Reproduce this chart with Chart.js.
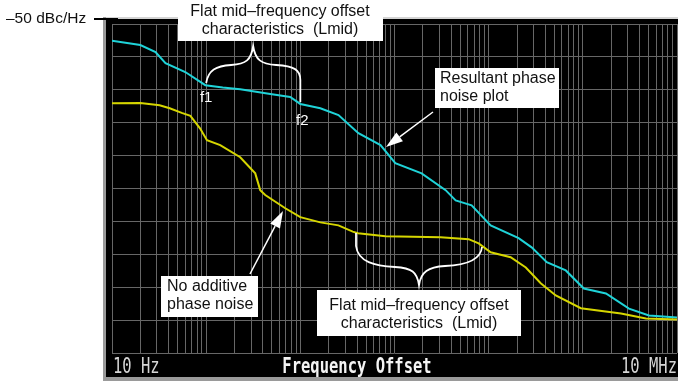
<!DOCTYPE html>
<html>
<head>
<meta charset="utf-8">
<script src="https://cdn.jsdelivr.net/npm/chart.js@4/dist/chart.umd.min.js"></script>
<style>
html,body{margin:0;padding:0;background:#fff;}
#c{display:block;}
</style>
</head>
<body>
<canvas id="c" width="678" height="382"></canvas>
<script>
// ---- data (frequency offset in Hz, phase noise in dBc/Hz) ----
const cyanFreq = [10, 20, 29, 37, 60, 98, 150, 230, 480, 780, 1000, 1630, 2540, 4140, 7100, 10200, 19400, 34900, 44600, 65900, 105000, 208000, 286000, 414000, 659000, 1025000, 1760000, 3090000, 5040000, 10000000];
const cyanDb   = [-55.1, -56.4, -58.5, -61.9, -64.6, -68.6, -69.3, -69.8, -71.3, -72.2, -74.3, -75.6, -77.7, -83.2, -86.8, -92.3, -95.4, -100.5, -103.6, -105.1, -111.2, -115.1, -117.9, -122.4, -124.9, -130.4, -131.9, -136.5, -138.6, -139.2];
const yelFreq  = [10, 20, 32, 41, 55, 68, 86, 102, 141, 230, 332, 375, 424, 692, 1000, 1630, 2540, 3600, 4100, 8000, 30800, 61200, 78300, 105000, 171000, 248000, 357000, 516000, 952000, 2540000, 4680000, 10000000];
const yelDb    = [-74.1, -74.0, -74.7, -75.6, -77.0, -77.9, -81.7, -85.3, -86.8, -90.5, -95.4, -100.5, -102.0, -106.0, -108.7, -110.3, -111.2, -113.1, -113.6, -114.5, -114.8, -115.4, -116.7, -119.4, -120.9, -124.0, -128.8, -132.5, -136.4, -138.0, -139.5, -139.8];
const yTicks   = [-150, -140, -130, -120, -110, -100, -90, -80, -70, -60, -50];
const xEndLabels = ["10 Hz", "10 MHz"];
const xTitle = "Frequency Offset";
const refLabel = "\u201350 dBc/Hz";

const xGrid = [];
for (let e = 1; e <= 6; e++) for (let m = 1; m <= 9; m++) xGrid.push(m * Math.pow(10, e));
xGrid.push(1e7);

const toPts = (xs, ys) => xs.map((x, i) => ({x: x, y: ys[i]}));

function arrow(c, x1, y1, x2, y2) {
  const a = Math.atan2(y2 - y1, x2 - x1), L = 17, w = 5.5;
  const bx = x2 - L * Math.cos(a), by = y2 - L * Math.sin(a);
  c.strokeStyle = '#fff'; c.fillStyle = '#fff'; c.lineWidth = 1.5;
  c.beginPath(); c.moveTo(x1, y1); c.lineTo(bx, by); c.stroke();
  c.beginPath(); c.moveTo(x2, y2);
  c.lineTo(bx + w * Math.sin(a), by - w * Math.cos(a));
  c.lineTo(bx - w * Math.sin(a), by + w * Math.cos(a));
  c.closePath(); c.fill();
}
function box(c, x, y, w, h, lines, tx, ty, align) {
  c.fillStyle = '#fff'; c.fillRect(x, y, w, h);
  c.fillStyle = '#111'; c.font = '16px "Liberation Sans", Arial, sans-serif';
  c.textAlign = align; c.textBaseline = 'middle';
  lines.forEach((t, i) => c.fillText(t, tx, ty + i * 18));
}
function stretchText(c, t, x, y, align, font, color) {
  c.save(); c.font = font; c.fillStyle = color; c.textAlign = align; c.textBaseline = 'alphabetic';
  c.translate(x, y); c.scale(1, 1.33); c.fillText(t, 0, 0); c.restore();
}

const deco = {
  id: 'deco',
  beforeDraw(chart) {
    const c = chart.ctx;
    c.save();
    c.fillStyle = '#fff'; c.fillRect(0, 0, 678, 382);
    c.fillStyle = '#9a9a9a'; c.fillRect(103, 17, 575, 364);
    c.fillStyle = '#d4d4d4'; c.fillRect(106, 17, 572, 2);
    c.fillStyle = '#000'; c.fillRect(106, 19, 572, 358);
    c.restore();
  },
  afterDraw(chart) {
    const c = chart.ctx, xs = chart.scales.x;
    const X = v => xs.getPixelForValue(v);
    c.save();
    // bottom labels
    const mono = '15.5px "DejaVu Sans Mono", monospace';
    stretchText(c, xEndLabels[0], 113, 373, 'left', mono, '#d6d6d6');
    stretchText(c, xEndLabels[1], 677, 373, 'right', mono, '#d6d6d6');
    stretchText(c, xTitle, 357, 373, 'center', 'bold ' + mono, '#f4f4f4');

    // reference level label
    c.fillStyle = '#111'; c.font = '15.5px "Liberation Sans", Arial, sans-serif';
    c.textAlign = 'left'; c.textBaseline = 'middle';
    c.fillText(refLabel, 6, 19);
    c.strokeStyle = '#000'; c.lineWidth = 2;
    c.beginPath(); c.moveTo(94, 19); c.lineTo(118, 19); c.stroke();

    // braces
    c.strokeStyle = '#fff'; c.lineWidth = 1.8;
    const f1 = X(100), f2 = X(1000);
    c.beginPath();
    c.moveTo(f1, 83);
    c.bezierCurveTo(f1 + 2, 70, f1 + 10, 66, f1 + 25, 65);
    c.bezierCurveTo(f1 + 40, 64, f1 + 45, 60, f1 + 47, 46);
    c.bezierCurveTo(f1 + 49, 60, f1 + 55, 64, f1 + 70, 65);
    c.bezierCurveTo(f2 - 6, 66, f2, 70, f2, 80);
    c.lineTo(f2, 102);
    c.stroke();
    c.beginPath();
    c.moveTo(356, 233); c.lineTo(356, 246);
    c.bezierCurveTo(358, 262, 375, 266, 395, 267);
    c.bezierCurveTo(412, 268, 417, 272, 419, 285);
    c.bezierCurveTo(421, 272, 428, 267, 445, 266);
    c.bezierCurveTo(470, 265, 481, 258, 482, 247);
    c.stroke();
    c.fillStyle = '#fff'; c.font = '15px "Liberation Sans", Arial, sans-serif';
    c.textAlign = 'center'; c.textBaseline = 'middle';
    c.fillText('f1', f1, 98);
    c.fillText('f2', f2 + 2, 121);

    // arrows
    arrow(c, 433, 112, 386, 147);
    arrow(c, 250, 274, 283, 211);

    // annotation boxes
    box(c, 178, 0, 205, 41, ['Flat mid\u2013frequency offset', 'characteristics  (Lmid)'], 280, 12, 'center');
    box(c, 435, 68, 124, 40, ['Resultant phase', 'noise plot'], 440, 79, 'left');
    box(c, 161, 276, 97, 41, ['No additive', 'phase noise'], 167, 287, 'left');
    box(c, 317, 290, 204, 46, ['Flat mid\u2013frequency offset', 'characteristics  (Lmid)'], 419, 306, 'center');
    c.restore();
  }
};

const gridStyle = {color: '#676767', lineWidth: 1, drawTicks: false};

new Chart(document.getElementById('c'), {
  type: 'line',
  data: {
    datasets: [
      {data: toPts(yelFreq, yelDb), borderColor: '#d6d600', borderWidth: 2, pointRadius: 0, tension: 0, fill: false},
      {data: toPts(cyanFreq, cyanDb), borderColor: '#1fd3d8', borderWidth: 2, pointRadius: 0, tension: 0, fill: false}
    ]
  },
  options: {
    responsive: false,
    animation: false,
    devicePixelRatio: 1,
    layout: {padding: {left: 112, right: 1, top: 24, bottom: 29}},
    plugins: {legend: {display: false}, tooltip: {enabled: false}},
    scales: {
      x: {
        type: 'logarithmic', min: 10, max: 1e7,
        afterBuildTicks: s => { s.ticks = xGrid.map(v => ({value: v})); },
        ticks: {display: false, autoSkip: false},
        grid: gridStyle, border: {display: false}
      },
      y: {
        type: 'linear', min: -150, max: -50,
        afterBuildTicks: s => { s.ticks = yTicks.map(v => ({value: v})); },
        ticks: {display: false},
        grid: gridStyle, border: {display: false}
      }
    }
  },
  plugins: [deco]
});
</script>
</body>
</html>
